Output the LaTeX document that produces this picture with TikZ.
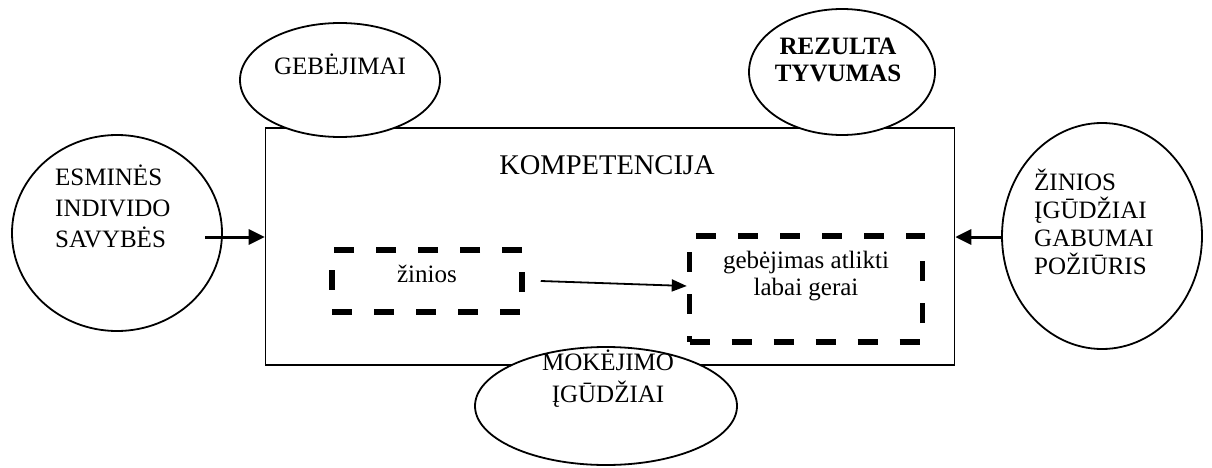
\documentclass[tikz,border=0pt]{standalone}
\usepackage{fontspec}
\setmainfont{Liberation Serif}
\usetikzlibrary{arrows.meta,positioning,shapes.geometric}

\begin{document}
\begin{tikzpicture}[x=1pt, y=-1pt,
    oval/.style={ellipse, draw, line width=1.8pt, fill=white, inner sep=0pt},
    txt/.style={font=\fontsize{25}{28}\selectfont, align=left, inner sep=0pt},
    dbox/.style={draw, line width=5.5pt, dash pattern=on 20pt off 22pt, inner sep=0pt},
    arr/.style={-{Triangle[length=16pt, width=15pt]}, line width=3pt},
    thinarr/.style={-{Triangle[length=15pt, width=12pt]}, line width=1.8pt}
]
  \useasboundingbox (0,0) rectangle (1212,468);

  % main frame
  \node[draw, line width=1.6pt, minimum width=689pt, minimum height=237pt] (komp) at (610,246.5) {};
  \node[txt, font=\fontsize{28.5}{32}\selectfont] (kompt) at (607,165) {KOMPETENCIJA};

  % inner dashed boxes
  \node[dbox, minimum width=190pt, minimum height=62pt] (zin) at (427,281) {};
  \node[txt] (zint) at (427,274) {žinios};
  \node[dbox, minimum width=233pt, minimum height=106pt] (geb) at (806,289) {};
  \node[txt, align=center, font=\fontsize{25}{27}\selectfont] (gebt) at (806,276) {gebėjimas atlikti\\labai gerai};
  \draw[thinarr] ([xshift=16pt]zin.east) -- ([yshift=3pt]geb.west);

  % ovals around the frame
  \node[oval, minimum width=200pt, minimum height=114pt] (gbj) at (340,80) {};
  \node[txt] (gbjt) at (340,64) {GEBĖJIMAI};

  \node[oval, minimum width=186pt, minimum height=126pt] (rez) at (842,72) {};
  \node[txt, align=center, font=\bfseries\fontsize{25}{27.5}\selectfont] (rezt) at (838,60) {REZULTA\\TYVUMAS};

  \node[oval, minimum width=210pt, minimum height=196pt] (esm) at (117,233) {};
  \node[txt, anchor=west, font=\fontsize{25}{31}\selectfont] (esmt) at (55,206) {ESMINĖS\\INDIVIDO\\SAVYBĖS};

  \node[oval, minimum width=200pt, minimum height=226pt] (igd) at (1102,236) {};
  \node[txt, anchor=west] (igdt) at (1034,222) {ŽINIOS\\ĮGŪDŽIAI\\GABUMAI\\POŽIŪRIS};

  \node[oval, minimum width=262pt, minimum height=118pt] (mok) at (606,406) {};
  \node[txt, align=center, font=\fontsize{25}{32}\selectfont] (mokt) at (608,379) {MOKĖJIMO\\ĮGŪDŽIAI};

  % inputs into the frame
  \coordinate (esm-out) at (205,237);
  \coordinate (igd-out) at (1002,237);
  \draw[arr] (esm-out) -- (esm-out -| komp.west);
  \draw[arr] (igd-out) -- (igd-out -| komp.east);
\end{tikzpicture}
\end{document}
